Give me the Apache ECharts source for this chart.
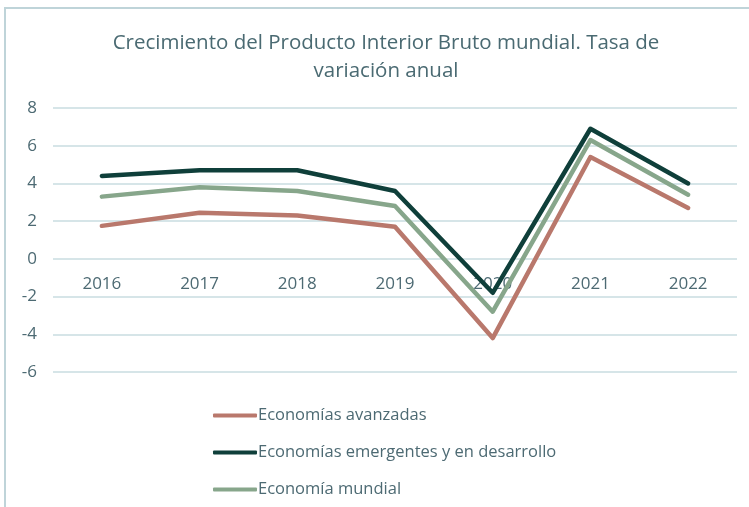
<!DOCTYPE html>
<html>
<head>
<meta charset="utf-8">
<script src="https://cdn.jsdelivr.net/npm/echarts@6/dist/echarts.min.js"></script>
<style>
html,body{margin:0;padding:0;background:#fff;}
#frame{position:absolute;left:4px;top:7px;width:745px;height:500px;border-left:2px solid #bfd4d9;border-top:2px solid #bfd4d9;box-sizing:border-box;}
#chart{position:absolute;left:0;top:0;width:749px;height:507px;}
</style>
</head>
<body>
<div id="frame"></div>
<div id="chart"></div>
<script>
var categories = ['2016','2017','2018','2019','2020','2021','2022'];
var avanzadas = [1.75, 2.45, 2.3, 1.7, -4.2, 5.4, 2.7];
var emergentes = [4.4, 4.7, 4.7, 3.6, -1.8, 6.9, 4.0];
var mundial = [3.3, 3.8, 3.6, 2.8, -2.8, 6.3, 3.4];
var seriesNames = ['Economías avanzadas', 'Economías emergentes y en desarrollo', 'Economía mundial'];
var colors = ['#b9786c', '#0f3f3a', '#87a68b'];

var chart = echarts.init(document.getElementById('chart'), null, {renderer:'canvas'});
var font = 'Open Sans';
var textColor = '#4d6a73';
var yMin = -6, yMax = 8;
var gridTop = 108, gridBottom = 135, H = 507;
var plotH = H - gridTop - gridBottom;
var zeroOffset = -plotH * (0 - yMin) / (yMax - yMin);
function mk(name, data, color){
  return {name:name, type:'line', data:data, symbol:'none', smooth:false,
    lineStyle:{color:color, width:4.5, cap:'round', join:'round'}, itemStyle:{color:color}};
}
chart.setOption({
  backgroundColor:'transparent',
  animation:false,
  title:{text:'Crecimiento del Producto Interior Bruto mundial. Tasa de\nvariación anual',
    left:381, textAlign:'center', top:24,
    textStyle:{fontFamily:font, fontSize:20.5, fontWeight:'normal', color:'#4a6a72', lineHeight:28}},
  grid:{left:53, right:12, top:gridTop, bottom:gridBottom},
  legend:{orient:'vertical', left:208, top:402, itemGap:20, itemWidth:44, itemHeight:4,
    icon:'roundRect',
    textStyle:{fontFamily:font, fontSize:16.5, color:textColor, padding:[0,0,0,-4]},
    data:seriesNames},
  xAxis:{type:'category', data:categories, boundaryGap:true, position:'bottom', offset:zeroOffset,
    axisLine:{show:false, onZero:false}, axisTick:{show:false},
    axisLabel:{fontFamily:font, fontSize:17, color:textColor, margin:17}},
  yAxis:{type:'value', min:yMin, max:yMax, interval:2,
    axisLine:{show:false}, axisTick:{show:false},
    axisLabel:{fontFamily:font, fontSize:17, color:textColor, margin:16},
    splitLine:{lineStyle:{color:'#c8dce1', width:1.5}}},
  series:[mk(seriesNames[0], avanzadas, colors[0]), mk(seriesNames[1], emergentes, colors[1]), mk(seriesNames[2], mundial, colors[2])]
});
</script>
</body>
</html>
